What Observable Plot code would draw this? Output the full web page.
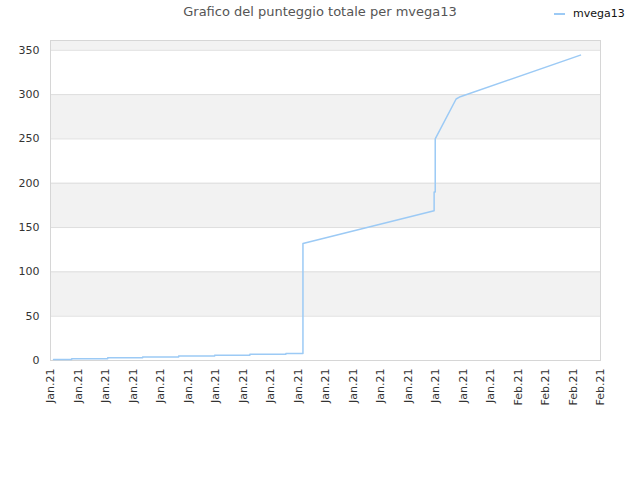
<!DOCTYPE html>
<html>
<head>
<meta charset="utf-8">
<script src="https://cdn.jsdelivr.net/npm/d3@7"></script>
<script src="https://cdn.jsdelivr.net/npm/@observablehq/plot@0.6"></script>
<style>
  body { margin: 0; background: #fff; font-family: "DejaVu Sans", sans-serif; }
  #wrap { position: relative; width: 640px; height: 480px; }
  #title { position: absolute; left: 0; top: 4px; width: 640px; text-align: center; font-size: 13px; color: #555; }
  #legend { position: absolute; left: 554px; top: 7px; font-size: 11px; color: #111; display: flex; align-items: center; }
  #legend .sw { display: inline-block; width: 11px; height: 0; border-top: 2px solid #9ccaf5; margin-right: 8px; }
  #chart { position: absolute; left: 0; top: 0; }
</style>
</head>
<body>
<div id="wrap">
  <div id="chart"></div>
  <div id="title">Grafico del punteggio totale per mvega13</div>
  <div id="legend"><span class="sw"></span>mvega13</div>
</div>
<script>
// polyline vertices of the cumulative score (x in tick-units of the time axis)
const days = [0.11, 0.77, 0.77, 2.08, 2.08, 3.35, 3.35, 4.66, 4.66, 5.97, 5.97, 7.25, 7.25, 8.56, 8.56, 9.18, 9.18, 13.95, 13.95, 13.99, 13.99, 14.75, 14.90, 19.27];
const scores = [1, 1, 2, 2, 3, 3, 4, 4, 5, 5, 6, 6, 7, 7, 8, 8, 132, 169, 190, 190, 250, 295, 297.6, 344.5];
const xTickLabels = ["Jan.21","Jan.21","Jan.21","Jan.21","Jan.21","Jan.21","Jan.21","Jan.21","Jan.21","Jan.21","Jan.21","Jan.21","Jan.21","Jan.21","Jan.21","Jan.21","Jan.21","Feb.21","Feb.21","Feb.21","Feb.21"];
const yTicks = [0, 50, 100, 150, 200, 250, 300, 350];
const bandLo = [50, 150, 250, 350];
const bandHi = [100, 200, 300, 361];

const series = days.map((d, i) => ({x: d, y: scores[i]}));
const bands = bandLo.map((lo, i) => ({lo, hi: bandHi[i]}));
const xTicks = xTickLabels.map((_, i) => i);

const chart = Plot.plot({
  width: 640,
  height: 480,
  marginLeft: 50,
  marginRight: 40,
  marginTop: 40,
  marginBottom: 120,
  style: { fontFamily: "DejaVu Sans, sans-serif", fontSize: "11px", color: "#333", background: "transparent" },
  x: { domain: [0, 20], ticks: xTicks, tickFormat: i => xTickLabels[i], tickRotate: -90, tickSize: 0, tickPadding: 8, label: null },
  y: { domain: [0, 361], ticks: yTicks, tickSize: 0, tickPadding: 11, label: null },
  marks: [
    Plot.rect(bands, { y1: "lo", y2: "hi", fill: "#f2f2f2" }),
    Plot.ruleY(yTicks, { stroke: "#dedede", strokeWidth: 1 }),
    Plot.frame({ stroke: "#d6d6d6" }),
    Plot.line(series, { x: "x", y: "y", stroke: "#9ccaf5", strokeWidth: 1.5 })
  ]
});
document.getElementById("chart").appendChild(chart);
</script>
</body>
</html>
